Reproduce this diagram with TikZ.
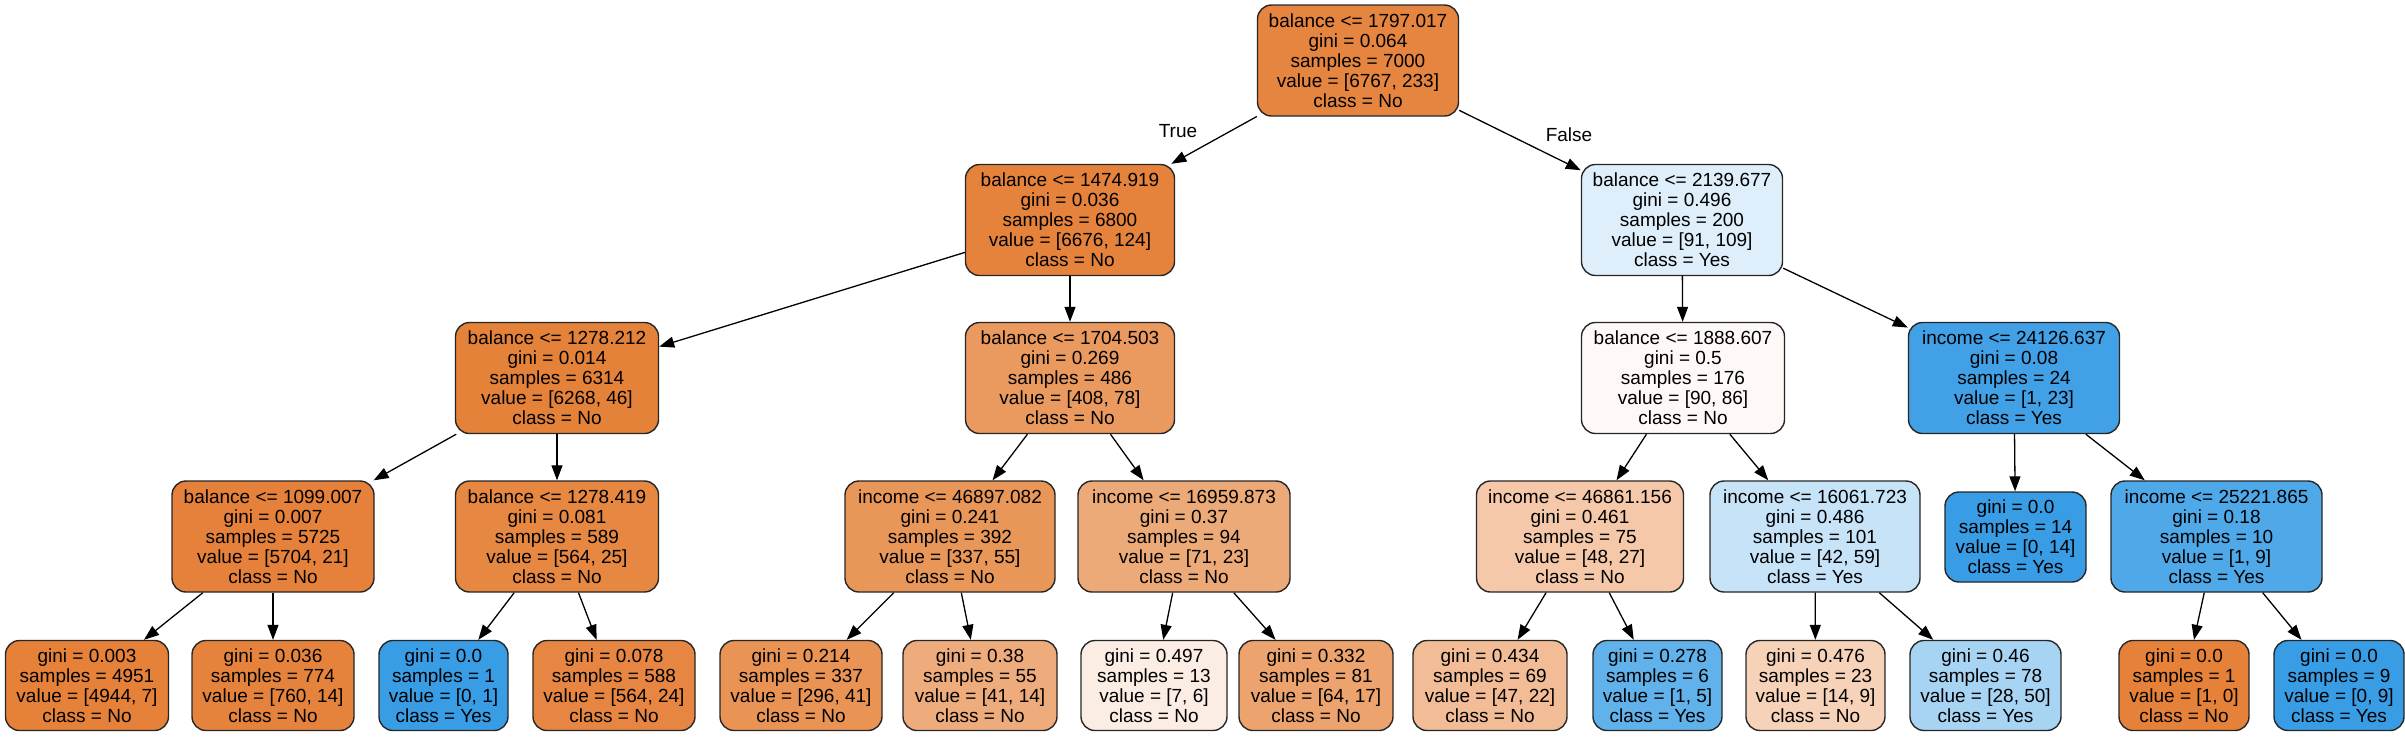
\documentclass[tikz,border=0pt]{standalone}
\usepackage{fontspec}
\setmainfont{Liberation Sans}
\usetikzlibrary{arrows.meta}
\definecolor{clsA}{RGB}{229,129,57}
\definecolor{clsB}{RGB}{57,157,229}
\tikzset{
  tn/.style={draw=black!85, line width=0.7pt, rounded corners=7pt, fill=#1,
    align=center, inner sep=0pt, minimum height=55.5pt,
    font=\fontsize{9.5}{10}\selectfont, text=black},
  lf/.style={tn=#1, minimum height=45pt},
  bw/.style={minimum width=#1*0.5pt},
  edge/.style={draw=black, line width=0.65pt, -{Triangle[length=7.5pt,width=5.5pt]}},
  elab/.style={font=\fontsize{9.5}{10}\selectfont, inner sep=0pt}
}
\begin{document}
\begin{tikzpicture}[x=0.5pt,y=-0.5pt]
\useasboundingbox (0,0) rectangle (2405,736);
% level 0
\node[tn=clsA!96.6!white, bw=201] (r) at (1358,60.5) {balance <= 1797.017\\gini = 0.064\\samples = 7000\\value = [6767, 233]\\class = No};
% level 1
\node[tn=clsA!98.1!white, bw=209] (a) at (1070,220) {balance <= 1474.919\\gini = 0.036\\samples = 6800\\value = [6676, 124]\\class = No};
\node[tn=clsB!16.5!white, bw=201] (b) at (1682,220) {balance <= 2139.677\\gini = 0.496\\samples = 200\\value = [91, 109]\\class = Yes};
% level 2
\node[tn=clsA!99.3!white, bw=203] (c) at (557,378) {balance <= 1278.212\\gini = 0.014\\samples = 6314\\value = [6268, 46]\\class = No};
\node[tn=clsA!80.9!white, bw=209] (d) at (1070,378) {balance <= 1704.503\\gini = 0.269\\samples = 486\\value = [408, 78]\\class = No};
\node[tn=clsA!4.4!white, bw=203] (e) at (1683,378) {balance <= 1888.607\\gini = 0.5\\samples = 176\\value = [90, 86]\\class = No};
\node[tn=clsB!95.7!white, bw=211] (f) at (2014,378) {income <= 24126.637\\gini = 0.08\\samples = 24\\value = [1, 23]\\class = Yes};
% level 3
\node[tn=clsA!99.6!white, bw=202] (g) at (273,536.5) {balance <= 1099.007\\gini = 0.007\\samples = 5725\\value = [5704, 21]\\class = No};
\node[tn=clsA!95.6!white, bw=203] (h) at (557,536.5) {balance <= 1278.419\\gini = 0.081\\samples = 589\\value = [564, 25]\\class = No};
\node[tn=clsA!83.7!white, bw=210] (i) at (950,536.5) {income <= 46897.082\\gini = 0.241\\samples = 392\\value = [337, 55]\\class = No};
\node[tn=clsA!67.6!white, bw=212] (j) at (1184,536.5) {income <= 16959.873\\gini = 0.37\\samples = 94\\value = [71, 23]\\class = No};
\node[tn=clsA!43.8!white, bw=207] (k) at (1580,536.5) {income <= 46861.156\\gini = 0.461\\samples = 75\\value = [48, 27]\\class = No};
\node[tn=clsB!28.8!white, bw=210] (l) at (1815,536.5) {income <= 16061.723\\gini = 0.486\\samples = 101\\value = [42, 59]\\class = Yes};
\node[lf=clsB, bw=141] (m) at (2015.5,537) {gini = 0.0\\samples = 14\\value = [0, 14]\\class = Yes};
\node[tn=clsB!88.9!white, bw=211] (n) at (2216.5,536.5) {income <= 25221.865\\gini = 0.18\\samples = 10\\value = [1, 9]\\class = Yes};
% level 4 leaves
\node[lf=clsA!99.9!white, bw=163] (l1) at (87,685.5) {gini = 0.003\\samples = 4951\\value = [4944, 7]\\class = No};
\node[lf=clsA!98.2!white, bw=162] (l2) at (273,685.5) {gini = 0.036\\samples = 774\\value = [760, 14]\\class = No};
\node[lf=clsB, bw=129] (l3) at (443.5,685.5) {gini = 0.0\\samples = 1\\value = [0, 1]\\class = Yes};
\node[lf=clsA!95.7!white, bw=162] (l4) at (614,685.5) {gini = 0.078\\samples = 588\\value = [564, 24]\\class = No};
\node[lf=clsA!86.1!white, bw=162] (l5) at (801,685.5) {gini = 0.214\\samples = 337\\value = [296, 41]\\class = No};
\node[lf=clsA!65.9!white, bw=154] (l6) at (980,685.5) {gini = 0.38\\samples = 55\\value = [41, 14]\\class = No};
\node[lf=clsA!14.3!white, bw=146] (l7) at (1154,685.5) {gini = 0.497\\samples = 13\\value = [7, 6]\\class = No};
\node[lf=clsA!73.4!white, bw=154] (l8) at (1316,685.5) {gini = 0.332\\samples = 81\\value = [64, 17]\\class = No};
\node[lf=clsA!53.2!white, bw=154] (l9) at (1490,685.5) {gini = 0.434\\samples = 69\\value = [47, 22]\\class = No};
\node[lf=clsB!80!white, bw=129] (l10) at (1657.5,685.5) {gini = 0.278\\samples = 6\\value = [1, 5]\\class = Yes};
\node[lf=clsA!35.7!white, bw=139] (l11) at (1815.5,685.5) {gini = 0.476\\samples = 23\\value = [14, 9]\\class = No};
\node[lf=clsB!44!white, bw=151] (l12) at (1985.5,685.5) {gini = 0.46\\samples = 78\\value = [28, 50]\\class = Yes};
\node[lf=clsA, bw=130] (l13) at (2184,685.5) {gini = 0.0\\samples = 1\\value = [1, 0]\\class = No};
\node[lf=clsB, bw=130] (l14) at (2339,685.5) {gini = 0.0\\samples = 9\\value = [0, 9]\\class = Yes};
% edges
\draw[edge] (r) -- (a);
\draw[edge] (r) -- (b);
\draw[edge] (a) -- (c);
\draw[edge] (a) -- (d);
\draw[edge] (b) -- (e);
\draw[edge] (b) -- (f);
\draw[edge] (c) -- (g);
\draw[edge] (c) -- (h);
\draw[edge] (d) -- (i);
\draw[edge] (d) -- (j);
\draw[edge] (e) -- (k);
\draw[edge] (e) -- (l);
\draw[edge] (f) -- (m);
\draw[edge] (f) -- (n);
\draw[edge] (g) -- (l1);
\draw[edge] (g) -- (l2);
\draw[edge] (h) -- (l3);
\draw[edge] (h) -- (l4);
\draw[edge] (i) -- (l5);
\draw[edge] (i) -- (l6);
\draw[edge] (j) -- (l7);
\draw[edge] (j) -- (l8);
\draw[edge] (k) -- (l9);
\draw[edge] (k) -- (l10);
\draw[edge] (l) -- (l11);
\draw[edge] (l) -- (l12);
\draw[edge] (n) -- (l13);
\draw[edge] (n) -- (l14);
% edge labels
\node[elab] (tl) at (1178,131) {True};
\node[elab] (fl) at (1569,135) {False};
\end{tikzpicture}
\end{document}
